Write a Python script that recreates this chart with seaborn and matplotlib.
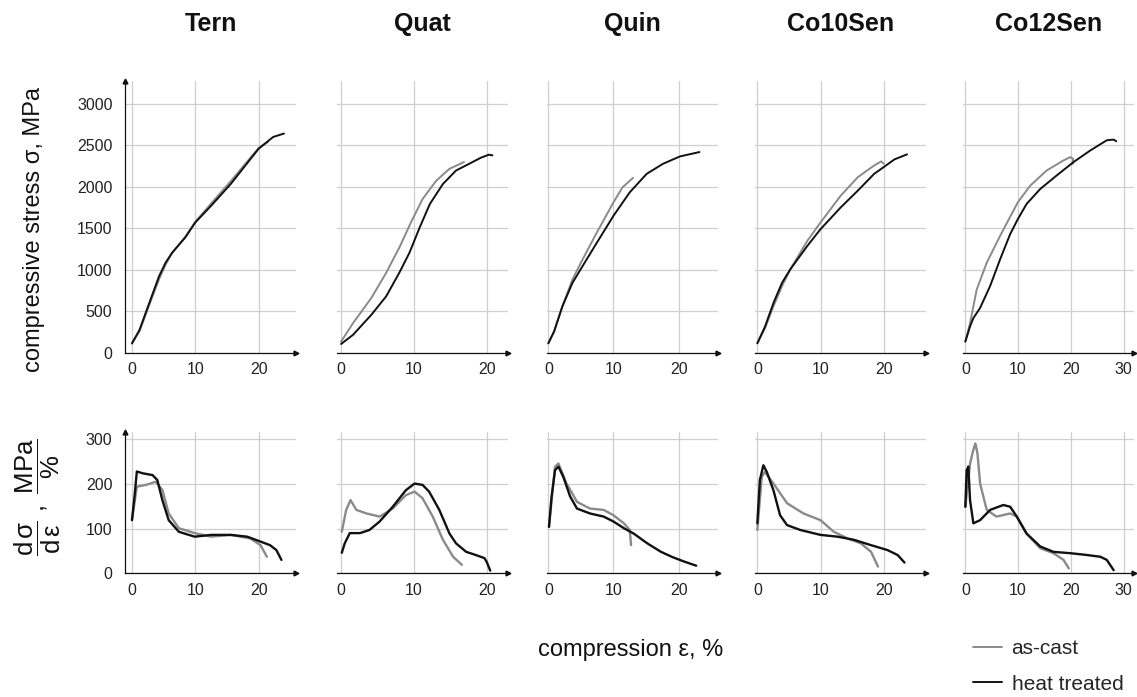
import matplotlib
matplotlib.use("Agg")
import matplotlib.pyplot as plt
import seaborn as sns
import pandas as pd
from matplotlib.lines import Line2D

# ---------------- data ----------------
alloys = ["Tern", "Quat", "Quin", "Co10Sen", "Co12Sen"]
conditions = ["as-cast", "heat treated"]

# stress-strain curves (strain %, stress MPa)
tern_cast_eps = [0, 1.2, 2.7, 4.3, 5.3, 6.3, 8.4, 10, 12.5, 15.6, 20, 21.5]
tern_cast_sig = [110, 260, 570, 890, 1060, 1200, 1395, 1580, 1800, 2070, 2470, 2545]
tern_ht_eps = [0, 1.19, 2.73, 4.28, 5.3, 6.34, 8.4, 10, 12.5, 15.6, 20, 22.3, 24]
tern_ht_sig = [113, 275, 599, 923, 1085, 1206, 1389, 1571, 1773, 2036, 2461, 2603, 2644]

quat_cast_eps = [0, 1.64, 4.16, 6.2, 8.0, 9.6, 11.2, 13.1, 14.9, 16.9]
quat_cast_sig = [134, 356, 660, 964, 1267, 1571, 1854, 2077, 2219, 2300]
quat_ht_eps = [0, 1.64, 4.16, 6.2, 8.0, 9.4, 10.8, 12.2, 14.0, 15.8, 17.6, 19.2, 20.3, 20.8]
quat_ht_sig = [105, 215, 457, 680, 964, 1206, 1510, 1794, 2036, 2198, 2279, 2352, 2389, 2381]

quin_cast_eps = [0, 0.88, 2.16, 3.7, 5.26, 7.3, 10, 11.4, 13]
quin_cast_sig = [113, 255, 559, 883, 1125, 1429, 1814, 1996, 2109]
quin_ht_eps = [0, 0.88, 2.16, 3.7, 5.26, 7.3, 10, 12.5, 15.1, 17.6, 20.2, 23.2]
quin_ht_sig = [113, 255, 559, 842, 1045, 1308, 1652, 1935, 2158, 2279, 2368, 2421]

co10_cast_eps = [0, 1.22, 2.55, 3.9, 5.2, 7.9, 10, 13.2, 15.9, 18.5, 19.6, 20]
co10_cast_sig = [113, 296, 559, 802, 1004, 1348, 1571, 1895, 2117, 2259, 2308, 2280]
co10_ht_eps = [0, 1.22, 2.55, 3.9, 5.2, 7.9, 10, 13.2, 15.9, 18.5, 20, 21.7, 23.7]
co10_ht_sig = [113, 316, 599, 842, 1004, 1287, 1490, 1753, 1955, 2158, 2239, 2332, 2393]

co12_cast_eps = [0, 0.89, 2.15, 4.05, 6.58, 9.94, 12.3, 15.4, 18.6, 19.9, 20.4, 20.4]
co12_cast_sig = [134, 356, 761, 1085, 1409, 1814, 2016, 2198, 2320, 2360, 2340, 2280]
co12_ht_eps = [0, 0.89, 1.52, 2.78, 4.68, 6.58, 8.48, 9.94, 11.6, 14.2, 17.3, 20.5, 23.7, 26.8, 28.1, 28.6]
co12_ht_sig = [134, 316, 417, 538, 802, 1125, 1429, 1611, 1794, 1976, 2138, 2300, 2441, 2563, 2571, 2551]

# strain-hardening curves (strain %, dsigma/deps MPa/%)
tern_cast_deps = [0, 0.77, 2.2, 3.76, 4.8, 5.8, 7.4, 9.9, 12.5, 15.6, 18.7, 20.3, 21.3]
tern_cast_slope = [119, 194, 198, 205, 187, 134, 101, 90, 82, 86, 78, 63, 37]
tern_ht_deps = [0, 0.4, 0.77, 1.7, 3.25, 4.0, 4.8, 5.8, 7.4, 9.9, 12.5, 15.6, 18.2, 20.3, 21.8, 22.8, 23.6]
tern_ht_slope = [119, 172, 228, 224, 220, 209, 164, 119, 93, 82, 86, 86, 82, 71, 63, 52, 30]

quat_cast_deps = [0.1, 0.7, 1.3, 2.1, 3.5, 5.3, 7.1, 8.9, 10.1, 11.2, 12.6, 14, 15.4, 16.6]
quat_cast_slope = [93, 142, 164, 142, 134, 127, 145, 175, 183, 168, 127, 75, 37, 19]
quat_ht_deps = [0.1, 0.5, 1.2, 2.6, 3.9, 5.3, 7.1, 8.9, 10.1, 11.2, 12.1, 13.5, 14.9, 15.8, 17.2, 18.5, 19.7, 20, 20.5]
quat_ht_slope = [46, 67, 90, 90, 97, 116, 149, 186, 201, 198, 183, 142, 89, 67, 48, 41, 34, 26, 6]

quin_cast_deps = [0.1, 1.03, 1.55, 2.8, 4.4, 6.4, 8.5, 10, 11.6, 12.5, 12.7]
quin_cast_slope = [104, 239, 246, 201, 160, 145, 142, 130, 112, 97, 63]
quin_ht_deps = [0.1, 0.5, 1.03, 1.55, 2.3, 3.35, 4.4, 6.4, 8.5, 10, 11.6, 13.1, 15.2, 17.3, 19.1, 20.9, 22.7]
quin_ht_slope = [104, 172, 231, 239, 216, 172, 145, 134, 127, 116, 101, 89, 67, 48, 36, 26, 17]

co10_cast_deps = [0, 0.7, 1.2, 2.55, 4.7, 7.3, 10, 12.1, 14.3, 16.4, 18, 19.1]
co10_cast_slope = [97, 216, 227, 201, 157, 134, 119, 93, 78, 67, 48, 15]
co10_ht_deps = [0, 0.4, 0.96, 1.5, 2.55, 3.6, 4.7, 6.8, 10, 12.7, 15.3, 18, 20.6, 22.2, 23.3]
co10_ht_slope = [112, 209, 242, 227, 186, 130, 108, 97, 86, 82, 75, 63, 52, 41, 24]

co12_cast_deps = [0, 0.9, 1.5, 1.9, 2.3, 2.8, 4.05, 5.9, 8.5, 9.75, 11.6, 14.2, 16.7, 18.6, 19.6]
co12_cast_slope = [149, 246, 276, 291, 268, 201, 142, 127, 134, 127, 89, 56, 45, 30, 11]
co12_ht_deps = [0, 0.25, 0.57, 0.89, 1.52, 2.8, 4.7, 7.2, 8.5, 9.75, 11.6, 14.2, 16.7, 19.9, 23, 25.6, 26.8, 28.1]
co12_ht_slope = [149, 231, 239, 164, 112, 119, 142, 153, 149, 127, 89, 60, 48, 45, 41, 37, 30, 7]

stress_data = {
    "Tern": ((tern_cast_eps, tern_cast_sig), (tern_ht_eps, tern_ht_sig)),
    "Quat": ((quat_cast_eps, quat_cast_sig), (quat_ht_eps, quat_ht_sig)),
    "Quin": ((quin_cast_eps, quin_cast_sig), (quin_ht_eps, quin_ht_sig)),
    "Co10Sen": ((co10_cast_eps, co10_cast_sig), (co10_ht_eps, co10_ht_sig)),
    "Co12Sen": ((co12_cast_eps, co12_cast_sig), (co12_ht_eps, co12_ht_sig)),
}
slope_data = {
    "Tern": ((tern_cast_deps, tern_cast_slope), (tern_ht_deps, tern_ht_slope)),
    "Quat": ((quat_cast_deps, quat_cast_slope), (quat_ht_deps, quat_ht_slope)),
    "Quin": ((quin_cast_deps, quin_cast_slope), (quin_ht_deps, quin_ht_slope)),
    "Co10Sen": ((co10_cast_deps, co10_cast_slope), (co10_ht_deps, co10_ht_slope)),
    "Co12Sen": ((co12_cast_deps, co12_cast_slope), (co12_ht_deps, co12_ht_slope)),
}

stress_ticks = [0, 500, 1000, 1500, 2000, 2500, 3000]
slope_ticks = [0, 100, 200, 300]
x_ticks = {"Tern": [0, 10, 20], "Quat": [0, 10, 20], "Quin": [0, 10, 20],
           "Co10Sen": [0, 10, 20], "Co12Sen": [0, 10, 20, 30]}
x_limits = {"Tern": (-1.1, 25.9), "Quat": (-0.6, 22.9), "Quin": (-0.25, 26.0),
            "Co10Sen": (-0.37, 26.7), "Co12Sen": (-0.5, 31.9)}

# ---------------- style ----------------
sns.set_theme(style="white")
plt.rcParams["font.family"] = ["Liberation Sans", "DejaVu Sans"]
plt.rcParams["mathtext.fontset"] = "custom"
plt.rcParams["mathtext.rm"] = "Liberation Sans"
plt.rcParams["mathtext.it"] = "Liberation Sans"
plt.rcParams["mathtext.bf"] = "Liberation Sans:bold"

palette = {"as-cast": "#8a8a8a", "heat treated": "#111111"}
W, H = 1137, 697
fig = plt.figure(figsize=(W / 100, H / 100), dpi=100)

lefts_px = [125, 336.7, 546.7, 755, 962.7]
panel_w = 171 / W


def make_df(pair):
    rows = []
    for cond, (xs, ys) in zip(conditions, pair):
        for x, y in zip(xs, ys):
            rows.append({"strain": x, "value": y, "condition": cond})
    return pd.DataFrame(rows)


def style_axis(ax, first, ylim, yticks, xlim, xticks):
    ax.set_xlim(*xlim)
    ax.set_ylim(*ylim)
    ax.set_xticks(xticks)
    ax.set_yticks(yticks)
    ax.grid(True, color="#cfcfcf", lw=0.9)
    ax.set_axisbelow(True)
    for s in ["top", "right"]:
        ax.spines[s].set_visible(False)
    ax.spines["bottom"].set_color("#111111")
    ax.spines["bottom"].set_linewidth(0.9)
    ax.tick_params(axis="both", length=0, labelsize=11.5, colors="#222222")
    ax.tick_params(axis="x", pad=7)
    ax.tick_params(axis="y", pad=9)
    ax.plot(1, 0, marker=">", ms=3.5, color="#111111", transform=ax.transAxes, clip_on=False)
    if first:
        ax.spines["left"].set_color("#111111")
        ax.spines["left"].set_linewidth(0.9)
        ax.plot(0, 1, marker="^", ms=3.5, color="#111111", transform=ax.transAxes, clip_on=False)
    else:
        ax.spines["left"].set_visible(False)
        ax.set_yticklabels([])
    ax.set_xlabel("")
    ax.set_ylabel("")


for i, name in enumerate(alloys):
    l = lefts_px[i] / W
    ax_t = fig.add_axes([l, 0.494, panel_w, 0.390])
    ax_b = fig.add_axes([l, 0.1775, panel_w, 0.203])
    sns.lineplot(data=make_df(stress_data[name]), x="strain", y="value", hue="condition",
                 hue_order=conditions, palette=palette, estimator=None, sort=False,
                 legend=False, lw=1.4, ax=ax_t)
    sns.lineplot(data=make_df(slope_data[name]), x="strain", y="value", hue="condition",
                 hue_order=conditions, palette=palette, estimator=None, sort=False,
                 legend=False, lw=1.7, ax=ax_b)
    style_axis(ax_t, i == 0, (0, 3280), stress_ticks, x_limits[name], x_ticks[name])
    style_axis(ax_b, i == 0, (0, 317), slope_ticks, x_limits[name], x_ticks[name])
    fig.text(l + panel_w / 2, 1 - 24 / H, name, ha="center", va="center",
             fontsize=18, fontweight="bold", color="#111111")

fig.text(34 / W, 1 - 229 / H, "compressive stress σ, MPa", rotation=90,
         ha="center", va="center", fontsize=17, color="#111111")
fig.text(38 / W, 1 - 497 / H,
         r"$\dfrac{\mathrm{d}\,\sigma}{\mathrm{d}\,\varepsilon}\ ,\ \dfrac{\mathrm{MPa}}{\%}$",
         rotation=90, ha="center", va="center", fontsize=18.5, color="#111111")
fig.text(631 / W, 1 - 650 / H, "compression ε, %", ha="center", va="center",
         fontsize=17, color="#111111")

handles = [Line2D([], [], color=palette[c], lw=1.4) for c in conditions]
fig.legend(handles, conditions, loc="upper left", bbox_to_anchor=(973 / W, 1 - 639 / H),
           frameon=False, fontsize=15, handlelength=1.4, handletextpad=0.45,
           labelspacing=0.8, borderaxespad=0, borderpad=0)

fig.savefig("out.png", dpi=100)
